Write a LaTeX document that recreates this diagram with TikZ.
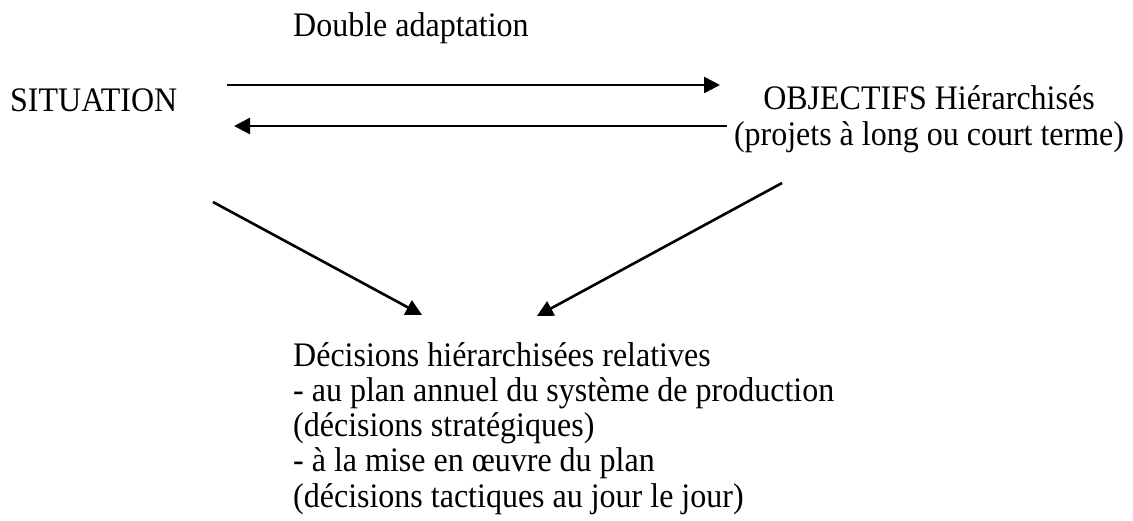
\documentclass[tikz,border=0pt]{standalone}
\usepackage{fontspec}
\setmainfont[FakeStretch=0.93]{Liberation Serif}
\usetikzlibrary{arrows.meta}
\begin{document}
\begin{tikzpicture}[x=1pt,y=-1pt,
  lbl/.style={inner sep=0pt,font=\fontsize{34.4}{35.2}\selectfont},
  conn/.style={line width=2.6pt,-{Triangle[length=16pt,width=16pt]}}]
\useasboundingbox (0,0) rectangle (1133,520);
% labels (multi-line nodes are placed by the baseline of their last line)
\node[lbl,anchor=base west] (dbl) at (293,36) {Double adaptation};
\node[lbl,anchor=base west] (sit) at (10,111) {SITUATION};
\node[lbl,align=center,anchor=base] (obj) at (929,145)
  {OBJECTIFS Hiérarchisés\\(projets à long ou court terme)};
\node[lbl,align=left,anchor=base west] (dec) at (293,507)
  {Décisions hiérarchisées relatives\\
   - au plan annuel du système de production\\
   (décisions stratégiques)\\
   - à la mise en œuvre du plan\\
   (décisions tactiques au jour le jour)};
% arrow end points
\coordinate (fwdA) at (227,85);
\coordinate (fwdB) at (720,85);
\coordinate (bckA) at (727,126);
\coordinate (bckB) at (234,126);
\coordinate (lftA) at (213,202);
\coordinate (lftB) at (422,315);
\coordinate (rgtA) at (782,183);
\coordinate (rgtB) at (537,316);
% connectors
\draw[conn] (fwdA) -- (fwdB);
\draw[conn] (bckA) -- (bckB);
\draw[conn] (lftA) -- (lftB);
\draw[conn] (rgtA) -- (rgtB);
\end{tikzpicture}
\end{document}
